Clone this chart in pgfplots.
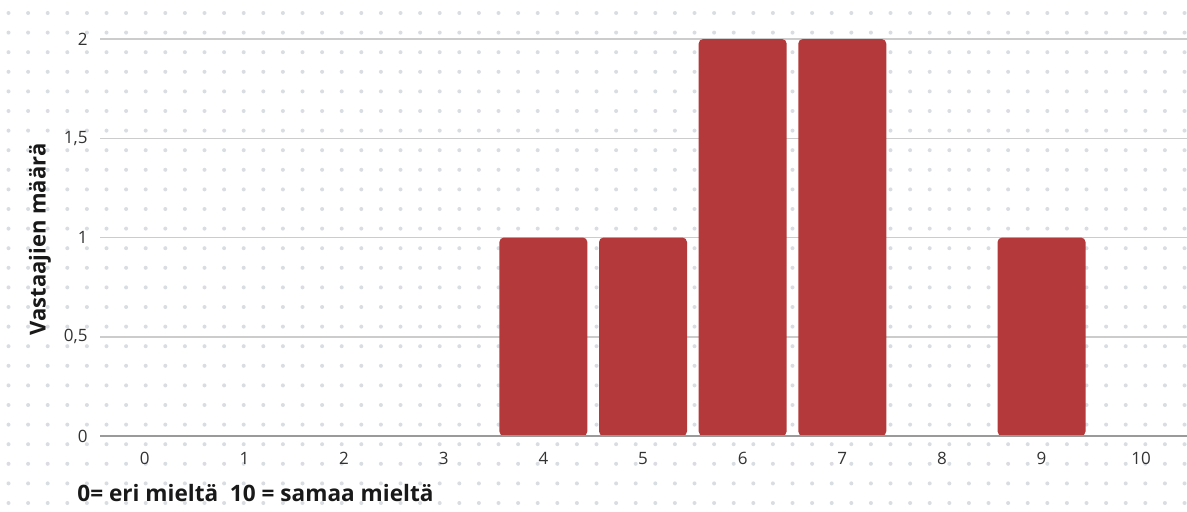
\documentclass[border=0pt]{standalone}
\usepackage{fontspec}
\setmainfont{Open Sans}
\usepackage{pgfplots}
\pgfplotsset{compat=1.18}
\definecolor{barred}{HTML}{B3393B}
\definecolor{dotc}{HTML}{D9DCE1}
\definecolor{gridc}{HTML}{CCCCCC}
\definecolor{axisc}{HTML}{9A9A9A}
\definecolor{tickc}{HTML}{333333}
\begin{document}
\begin{tikzpicture}
\useasboundingbox (0,0) rectangle (593.5pt,255.5pt);
\fill[white] (0,0) rectangle (593.5pt,255.5pt);
\foreach \i in {0,...,60}{
  \foreach \j in {0,...,26}{
    \fill[dotc] ({4.25pt+\i*9.8pt},{249pt-\j*9.8pt}) circle (1pt);
  }
}
\begin{axis}[
  at={(50pt,37.5pt)}, anchor=south west,
  scale only axis,
  width=543.5pt, height=198.5pt,
  xmin=-0.45, xmax=10.46,
  ymin=0, ymax=2,
  clip=false,
  axis x line*=bottom,
  axis y line*=left,
  y axis line style={draw=none},
  x axis line style={draw=none},
  major tick length=0pt,
  xtick={0,...,10},
  ytick={0,0.5,1,1.5,2},
  yticklabels={0,{0,5},1,{1,5},2},
  /pgf/number format/assume math mode=true,
  ticklabel style={font=\fontsize{8.5}{10}\selectfont, text=tickc, inner sep=0pt},
  yticklabel style={anchor=east, xshift=-6pt},
  xticklabel style={anchor=north, yshift=-8pt},
  ymajorgrids,
  major grid style={draw=gridc, line width=0.75pt},
  ylabel={Vastaajien määrä},
  ylabel style={at={(rel axis cs:0,0.5)}, anchor=center, yshift=30pt, xshift=-1pt, inner sep=0pt, font=\bfseries\fontsize{11}{13}\selectfont, text=black!90},
  xlabel={0= eri mieltä\ \ 10 = samaa mieltä},
  xlabel style={at={(rel axis cs:0,0)}, anchor=west, inner sep=0pt, xshift=-11.5pt, yshift=-28.5pt, font=\bfseries\fontsize{11.3}{13}\selectfont, text=black!90},
  ybar, bar width=44pt,
]
% values 0 at categories 0,1,2,3,8,10 draw no bar
\addplot[fill=barred, draw=none, rounded corners=2.3pt] coordinates {
(4,1) (5,1) (6,2) (7,2) (9,1)
};
\draw[axisc, line width=1pt] (rel axis cs:0,0) -- (rel axis cs:1,0);
\end{axis}
\end{tikzpicture}
\end{document}
